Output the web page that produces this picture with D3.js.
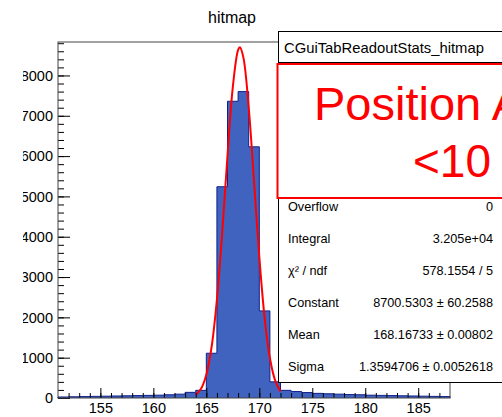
<!DOCTYPE html>
<html>
<head>
<meta charset="utf-8">
<script src="https://cdn.jsdelivr.net/npm/d3@7"></script>
<style>
  body { margin: 0; background: #fff; }
  svg { display: block; font-family: "Liberation Sans", Arial, sans-serif; }
</style>
</head>
<body>
<svg id="chart" width="502" height="417"></svg>
<script>
// bin lower edges (width 1) and counts
const binEdges = [151, 152, 153, 154, 155, 156, 157, 158, 159, 160, 161, 162, 163, 164, 165, 166, 167, 168, 169,
    170, 171, 172, 173, 174, 175, 176, 177, 178, 179, 180, 181, 182, 183, 184, 185, 186, 187];
const binCounts = [25, 30, 35, 40, 45, 50, 55, 60, 65, 70, 80, 95, 140, 190, 1110, 5240, 7360, 7600, 6230,
    2160, 400, 190, 160, 135, 115, 105, 95, 85, 80, 70, 65, 60, 55, 50, 45, 40, 35];

// gaussian fit curve
const fitX = [164, 164.5, 165, 165.5, 166, 166.5, 167, 167.5, 168, 168.17, 168.5, 169, 169.5, 170, 170.5, 171, 171.5, 172];
const fitY = [79, 229, 577, 1271, 2442, 4102, 6019, 7713, 8635, 8700, 8443, 7211, 5379, 3505, 1995, 992, 430, 163];

const xTicks = [155, 160, 165, 170, 175, 180, 185];
const yTicks = [0, 1000, 2000, 3000, 4000, 5000, 6000, 7000, 8000];

// stats box rows that are not hidden under the red label
const statNames = ["Overflow", "Integral", "χ² / ndf", "Constant", "Mean", "Sigma"];
const statValues = ["0", "3.205e+04", "578.1554 / 5", "8700.5303 ± 60.2588", "168.16733 ± 0.00802", "1.3594706 ± 0.0052618"];

const svg = d3.select("#chart");
const frame = { left: 58, right: 450, top: 42, bottom: 398 };

const x = d3.scaleLinear().domain([151, 188]).range([frame.left, frame.right]);
const y = d3.scaleLinear().domain([0, 8830]).range([frame.bottom, frame.top]);

// the y labels are cut on the left in the original pad
svg.append("defs").append("clipPath")
    .attr("id", "ylab-clip")
    .append("rect")
    .attr("x", 23 - frame.left).attr("y", 0).attr("width", 500).attr("height", 417);

// title
svg.append("text")
    .attr("x", 232).attr("y", 23)
    .attr("text-anchor", "middle")
    .style("font-size", "16px")
    .text("hitmap");

// histogram as a step area + outline
const pts = binEdges.map((e, i) => [e, binCounts[i]]);
pts.push([188, binCounts[binCounts.length - 1]]);

svg.append("path")
    .datum(pts)
    .attr("fill", "#4163c0")
    .attr("d", d3.area().curve(d3.curveStepAfter)
        .x(d => x(d[0])).y0(y(0)).y1(d => y(d[1])));

const outline = [[151, 0], ...pts, [188, 0]];
svg.append("path")
    .datum(outline)
    .attr("fill", "none")
    .attr("stroke", "#10208a")
    .attr("stroke-width", 1)
    .attr("d", d3.line().curve(d3.curveStepAfter).x(d => x(d[0])).y(d => y(d[1])));

// fit
svg.append("path")
    .datum(fitX.map((v, i) => [v, fitY[i]]))
    .attr("fill", "none")
    .attr("stroke", "#f00")
    .attr("stroke-width", 2)
    .attr("d", d3.line().curve(d3.curveCatmullRom).x(d => x(d[0])).y(d => y(d[1])));

// axes, ticks pointing inside the frame
const yMinor = svg.append("g").attr("transform", `translate(${frame.left},0)`)
    .call(d3.axisLeft(y).tickValues(d3.range(0, 8801, 200)).tickSize(-6).tickFormat(""));
const yAxis = svg.append("g").attr("transform", `translate(${frame.left},0)`)
    .attr("clip-path", "url(#ylab-clip)")
    .call(d3.axisLeft(y).tickValues(yTicks).tickSize(-12).tickPadding(5).tickFormat(d3.format("d")));
const xMinor = svg.append("g").attr("transform", `translate(0,${frame.bottom})`)
    .call(d3.axisBottom(x).tickValues(d3.range(152, 188, 1)).tickSize(-5).tickFormat(""));
const xAxis = svg.append("g").attr("transform", `translate(0,${frame.bottom})`)
    .call(d3.axisBottom(x).tickValues(xTicks).tickSize(-10).tickPadding(5));

[yMinor, yAxis, xMinor, xAxis].forEach(g => {
    g.select(".domain").remove();
    g.selectAll("line").attr("stroke", "#000");
    g.selectAll("text").style("font-size", "14.5px").attr("fill", "#000")
        .style("font-family", "'Liberation Sans', Arial, sans-serif");
});

// frame
svg.append("rect")
    .attr("x", frame.left).attr("y", frame.top)
    .attr("width", frame.right - frame.left).attr("height", frame.bottom - frame.top)
    .attr("fill", "none").attr("stroke", "#444").attr("stroke-width", 1);

// stats box
const box = svg.append("g");
box.append("rect")
    .attr("x", 278.5).attr("y", 31.5).attr("width", 260).attr("height", 351)
    .attr("fill", "#fff").attr("stroke", "#000").attr("stroke-width", 1);
box.append("line")
    .attr("x1", 278.5).attr("x2", 540).attr("y1", 62.5).attr("y2", 62.5)
    .attr("stroke", "#000");
box.append("text")
    .attr("x", 284).attr("y", 52.5)
    .style("font-size", "14.8px")
    .text("CGuiTabReadoutStats_hitmap");

statNames.forEach((name, i) => {
    const ry = 211 + i * 31.9;
    box.append("text")
        .attr("x", 288).attr("y", ry)
        .style("font-size", "12.7px")
        .text(name);
    box.append("text")
        .attr("x", 493).attr("y", ry)
        .attr("text-anchor", "end")
        .style("font-size", "12.7px")
        .text(statValues[i]);
});

// red overlay label
svg.append("rect")
    .attr("x", 277.5).attr("y", 64).attr("width", 260).attr("height", 134)
    .attr("fill", "#fff").attr("stroke", "#f00").attr("stroke-width", 2);
svg.append("text")
    .attr("x", 314).attr("y", 120)
    .attr("fill", "#f00")
    .style("font-size", "47px")
    .text("Position A");
svg.append("text")
    .attr("x", 413).attr("y", 177)
    .attr("fill", "#f00")
    .style("font-size", "46px")
    .text("<10");
</script>
</body>
</html>
